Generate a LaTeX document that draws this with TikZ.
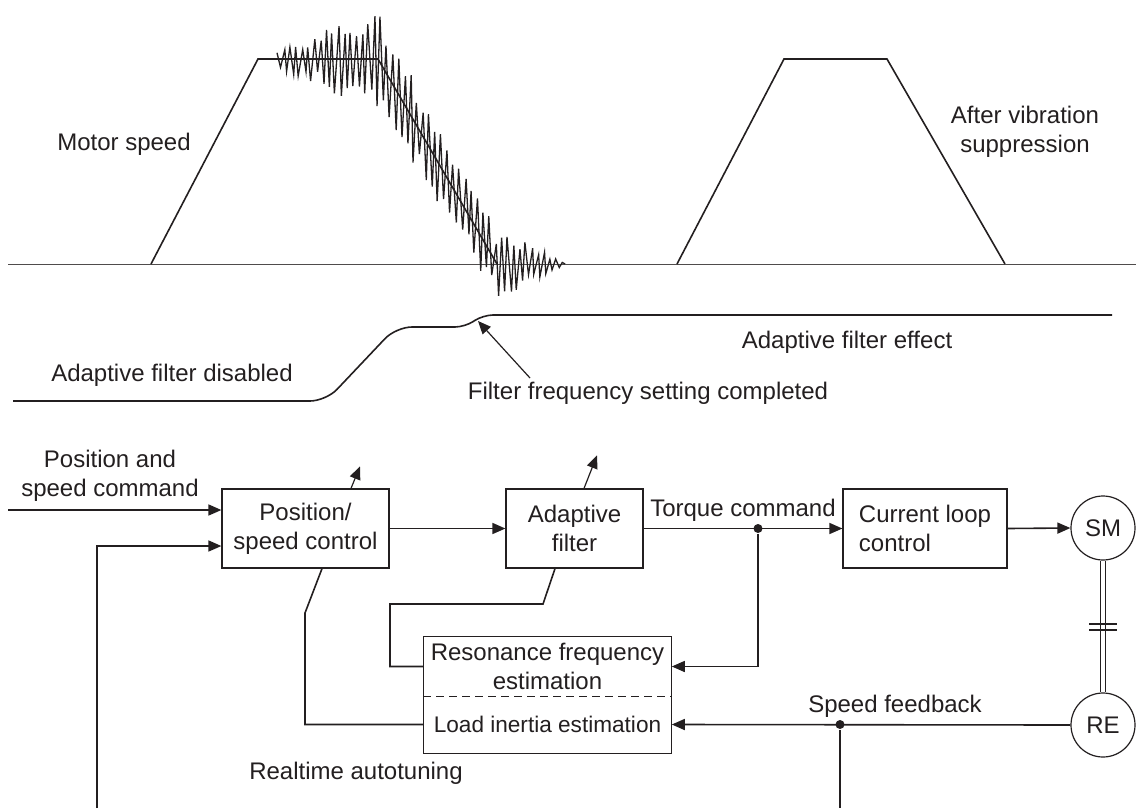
\documentclass[tikz,border=0pt]{standalone}
\usepackage{fontspec}
\setmainfont{Liberation Sans}
\usetikzlibrary{arrows.meta}
\definecolor{ink}{RGB}{35,31,32}

\begin{document}
\begin{tikzpicture}[x=0.5pt,y=-0.5pt,line width=0.8pt,ink,
  font=\fontsize{12}{14.5}\selectfont,>={Triangle[length=6.5pt,width=5.5pt]},
  box/.style={draw,line width=0.6pt,minimum height=39.5pt,align=center,inner sep=1pt},
  motor/.style={draw,circle,line width=0.6pt,minimum size=32pt,inner sep=0pt},
  dot/.style={circle,fill,inner sep=0pt,minimum size=4.5pt},
  declare function={vmean(\t)=59+205*min(1,max(0,(\t-378)/119));
    vamp(\t)=(\t<366)?(8+44*(\t-278)/88):((\t<515)?(50-18*(\t-366)/149):(32*(565-\t)/50));}]
  \useasboundingbox (0,0) rectangle (1136,809);
  \draw[line width=0.5pt,ink!80] (8,264) -- (1136,264);
  \pgfmathsetseed{23}
  \draw[line width=0.65pt] plot[domain=0:95,samples=96]
    ({278+3.02*\x+rand},{vmean(278+3.02*\x)-vamp(278+3.02*\x)*(1-2*mod(round(\x),2))*(0.45+0.55*rnd)});
  \draw (151,264) -- (258,59) -- (378,59) -- (497,264);
  \draw (677,264) -- (784,59) -- (887,59) -- (1005,264);
  \node at (124,144) {Motor speed};
  \node[align=center] at (1025,132) {After vibration\\suppression};

  \draw[rounded corners=8pt] (13,401) -- (326,401) -- (396,327)
    [rounded corners=5pt] -- (465,327) -- (483,315) -- (1112,315);
  \node at (172,375) {Adaptive filter disabled};
  \node at (847,342) {Adaptive filter effect};
  \node (ffset) at (648,393) {Filter frequency setting completed};
  \coordinate (knee) at (478,321);
  \coordinate (fftail) at (530,378);
  \draw[->,line width=0.6pt] (fftail) -- (knee);

  \node[align=center] (poscmd) at (110,476) {Position and\\speed command};
  \node[box,minimum width=83.5pt] (posctl) at (305.5,528.5) {Position/\\speed control};
  \node[box,minimum width=68.5pt] (adfilt) at (574.5,528.5) {Adaptive\\filter};
  \node[box,minimum width=82pt,align=left] (curctl) at (925,528.5) {Current loop\\control};
  \node[motor] (sm) at (1103,528) {SM};
  \node[motor] (re) at (1103,725) {RE};
  \node[minimum width=123.5pt,minimum height=29.5pt,align=center,inner sep=0pt] (resest)
    at (547.5,666.5) {Resonance frequency\\estimation};
  \node[minimum width=123.5pt,minimum height=28.5pt,inner sep=0pt,font=\fontsize{11.3}{14}\selectfont] (inertia)
    at (547.5,724.5) {Load inertia estimation};
  \draw[line width=0.6pt] (resest.north west) rectangle (inertia.south east);
  \draw[line width=0.6pt,dash pattern=on 4pt off 2.5pt] (resest.south west) -- (resest.south east);
  \node (autotune) at (356,773) {Realtime autotuning};

  \coordinate (cmdin) at (8,510);
  \coordinate (fbl) at (97,808);
  \draw[->] (cmdin) -- ([yshift=9.25pt]posctl.west);
  \draw[->] (fbl) |- ([yshift=-8.75pt]posctl.west);
  \draw[->,line width=0.6pt] ([xshift=22.75pt]posctl.north) -- ++(9,-22);
  \draw[->,line width=0.6pt] ([xshift=4.75pt]adfilt.north) -- ++(13,-33);
  \draw[->] (posctl.east) -- (adfilt.west);
  \draw[->] (adfilt.east) -- (curctl.west) node[midway,above] {Torque command};
  \node[dot] (tqdot) at (758,528.5) {};
  \draw[->] (tqdot) |- (resest.east);
  \draw[->] (curctl.east) -- (sm.west);
  \draw[->] (re.west) -- (inertia.east) node[pos=0.44,above] {Speed feedback};
  \node[dot] (fbdot) at (840,724.5) {};
  \coordinate (fbr) at (840,808);
  \draw (fbdot) -- (fbr);
  \draw (resest.west) -| (390,604) -- (543,604) -- ([xshift=-9.75pt]adfilt.south);
  \draw (inertia.west) -| (305,613) -- ([xshift=8.25pt]posctl.south);
  \draw[double,double distance=1.8pt,line width=0.6pt] (sm.south) -- (re.north);
  \draw[line width=0.6pt] (1089,624) -- (1117,624) (1089,630) -- (1117,630);
\end{tikzpicture}
\end{document}
